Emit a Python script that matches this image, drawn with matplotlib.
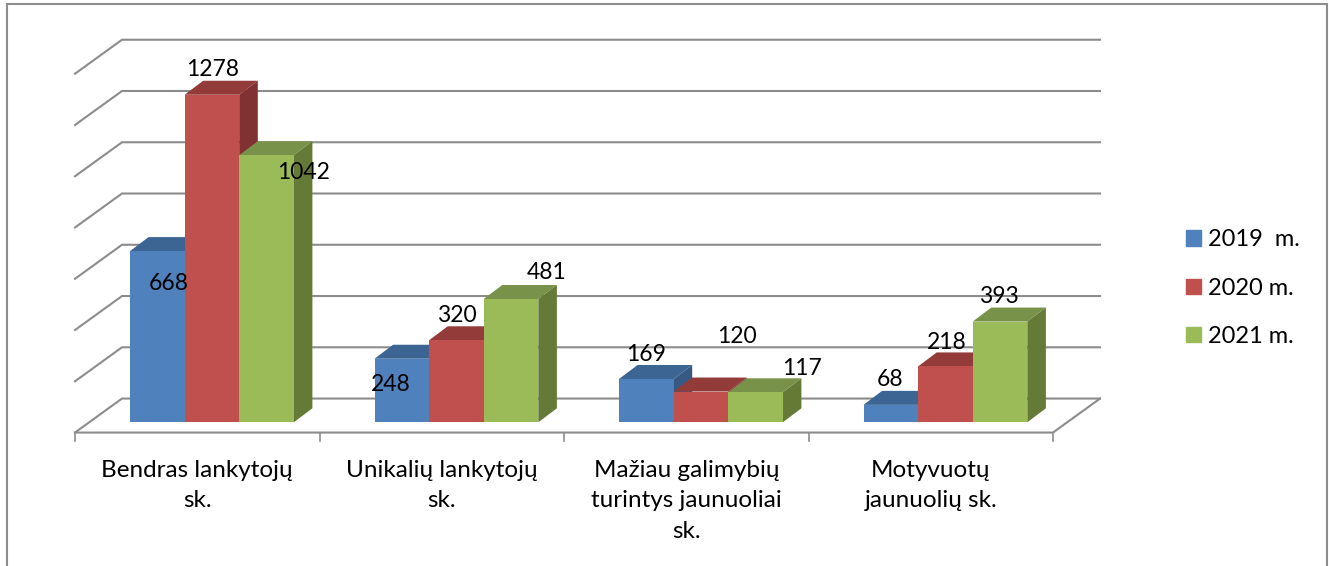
import matplotlib
matplotlib.use('Agg')
import matplotlib.pyplot as plt
from matplotlib.patches import Rectangle

plt.rcParams['font.family'] = ['Lato', 'DejaVu Sans']

# the data
categories = ['Bendras lankytojų\nsk.', 'Unikalių lankytojų\nsk.',
              'Mažiau galimybių\nturintys jaunuoliai\nsk.', 'Motyvuotų\njaunuolių sk.']
years = ['2019  m.', '2020 m.', '2021 m.']
values_2019 = [668, 248, 169, 68]
values_2020 = [1278, 320, 120, 218]
values_2021 = [1042, 481, 117, 393]
grid_values = [0, 200, 400, 600, 800, 1000, 1200, 1400]

# colours: front, top, side
front_colors = ['#4F81BD', '#C0504D', '#9BBB59']
top_colors = ['#3D6594', '#933B39', '#79924A']
side_colors = ['#375A85', '#7F3231', '#667A38']
line_color = '#8C8C8C'

# label offsets from the top centre of each bar, in pixels
label_offsets = [
    [(11, -32), (1, 25), (37, -17)],
    [(-11, -26), (0, 25), (36, 27)],
    [(0, 24), (36, 55), (46, 24)],
    [(-1, 25), (1, 24), (-1, 25)],
]

W, H = 1329, 566
px_per_cat = 244.5
px_per_val = 0.2563
x0_px = 75.0
y0_px = 422.3

fig = plt.figure(figsize=(W / 100, H / 100), dpi=100)
ax = fig.add_axes([0, 0, 1, 1])
ax.set_xlim(-x0_px / px_per_cat, (W - x0_px) / px_per_cat)
ax.set_ylim((y0_px - H) / px_per_val, y0_px / px_per_val)
ax.axis('off')

# outer frame, open at the bottom edge
fig.add_artist(Rectangle((7 / W, -0.02), (1327 - 7) / W, (H - 4) / H + 0.02,
                         transform=fig.transFigure, fill=False,
                         edgecolor='#8C8C8C', linewidth=1.5))

# walls and floor
floor_y = -40
wall_dx = 47 / px_per_cat
wall_dy = 34 / px_per_val
for v in grid_values:
    ax.plot([0, wall_dx, 4 + wall_dx],
            [floor_y + v, floor_y + v + wall_dy, floor_y + v + wall_dy],
            color=line_color, lw=1.5, solid_joinstyle='miter', zorder=1)
ax.plot([0, 4, 4 + wall_dx], [floor_y, floor_y, floor_y + wall_dy],
        color=line_color, lw=1.5, zorder=1)
for i in range(5):
    ax.plot([i, i], [floor_y, floor_y - 8 / px_per_val], color=line_color, lw=1.2, zorder=1)

# bars
bar_w = 54.6 / px_per_cat
bar_start = 55 / px_per_cat
dx = 18.6 / px_per_cat
dy = 14 / px_per_val
series = [values_2019, values_2020, values_2021]
z = 2
for c in range(len(categories)):
    for s, vals in enumerate(series):
        left = c + bar_start + s * bar_w
        v = vals[c]
        right = left + bar_w
        ax.fill([left, left + dx, right + dx, right], [v, v + dy, v + dy, v],
                color=top_colors[s], lw=0, zorder=z)
        ax.fill([right, right + dx, right + dx, right], [0, dy, v + dy, v],
                color=side_colors[s], lw=0, zorder=z)
        ax.bar(left, v, bar_w, align='edge', color=front_colors[s], lw=0, zorder=z + 0.5)
        z += 1
        off = label_offsets[c][s]
        ax.annotate(str(v), (left + bar_w / 2, v), xytext=(off[0] * 0.72, off[1] * 0.72),
                    textcoords='offset points', ha='center', va='center',
                    fontsize=16.5, color='black', zorder=100)

# category labels
for i, cat in enumerate(categories):
    ax.text(i + 0.5, floor_y - 27 / px_per_val, cat, ha='center', va='top',
            fontsize=17.5, color='black', linespacing=1.58)

# legend
handles = [Rectangle((0, 0), 1, 1, color=col) for col in front_colors]
ax.legend(handles, years, loc='upper left', bbox_to_anchor=(1177 / W, 1 - 220 / H),
          frameon=False, fontsize=17, handlelength=0.63, handleheight=0.63,
          handletextpad=0.3, labelspacing=1.15, borderpad=0.4, borderaxespad=0)

plt.savefig('out.png', dpi=100)
